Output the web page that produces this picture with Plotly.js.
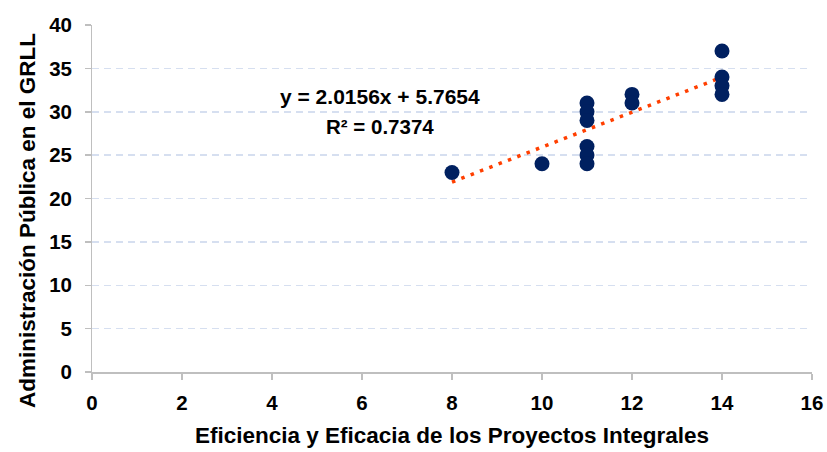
<!DOCTYPE html>
<html><head><meta charset="utf-8">
<script src="https://cdn.plot.ly/plotly-3.0.1.min.js"></script>
<style>html,body{margin:0;padding:0;background:#fff}#chart{width:827px;height:452px}</style>
</head><body><div id="chart"></div>
<script>
const xValues = [8, 10, 11, 11, 11, 11, 11, 11, 12, 12, 14, 14, 14, 14];
const yValues = [23, 24, 31, 30, 29, 26, 25, 24, 32, 31, 37, 34, 33, 32];
const trendSlope = 2.0156;
const trendIntercept = 5.7654;
const trendR2 = 0.7374;
const xTicks = [0, 2, 4, 6, 8, 10, 12, 14, 16];
const yTicks = [0, 5, 10, 15, 20, 25, 30, 35, 40];

const xMin = Math.min(...xValues), xMax = Math.max(...xValues);
const trendX = [xMin, xMax];
const trendY = trendX.map(x => trendSlope * x + trendIntercept);

const FONT = 'Liberation Sans, Arial, sans-serif';
const W = 827, L = 40, R = 15, PW = W - L - R;
const px = p => (p - L) / PW;

const data = [
  {x: trendX, y: trendY, type: 'scatter', mode: 'lines', xaxis: 'x', yaxis: 'y',
   line: {color: '#FF3F00', width: 3.5, dash: '3.5px,6.5px'}, hoverinfo: 'skip'},
  {x: xValues, y: yValues, type: 'scatter', mode: 'markers', xaxis: 'x', yaxis: 'y2',
   marker: {color: '#002060', size: 15}}
];
const layout = {
  width: W, height: 452,
  margin: {l: L, r: R, t: 25, b: 80},
  paper_bgcolor: '#fff', plot_bgcolor: '#fff',
  showlegend: false,
  font: {family: FONT, color: '#000'},
  xaxis: {domain: [px(92), 1], range: [0, 16], tickvals: xTicks, ticktext: xTicks.map(v => '<b>' + v + '</b>'),
    showgrid: false, zeroline: false, showline: true, linecolor: '#BFBFBF', linewidth: 1.5,
    ticks: 'outside', ticklen: 6, tickcolor: '#BFBFBF', tickwidth: 1.5,
    tickfont: {family: FONT, size: 20.5, color: '#000'},
    ticklabelstandoff: 6,
    title: {text: '<b>Eficiencia y Eficacia de los Proyectos Integrales</b>',
      font: {family: FONT, size: 22.5, color: '#000'}, standoff: 14}},
  yaxis: {anchor: 'x', range: [0, 40], tickvals: yTicks, showticklabels: false,
    showgrid: true, gridcolor: '#D6DFF0', gridwidth: 1.5, griddash: '7px,5px',
    zeroline: false, showline: true, linecolor: '#BFBFBF', linewidth: 1.5,
    ticks: 'outside', ticklen: 6, tickcolor: '#BFBFBF', tickwidth: 1.5},
  yaxis2: {overlaying: 'y', matches: 'y', anchor: 'free', position: px(72), side: 'left',
    range: [0, 40], tickvals: yTicks, ticktext: yTicks.map(v => '<b>' + v + '</b>'),
    showgrid: false, zeroline: false, showline: false, ticks: '',
    tickfont: {family: FONT, size: 20.5, color: '#000'}},
  annotations: [
    {xref: 'paper', yref: 'paper', x: px(27), y: (372 - 221) / 347,
     text: '<b>Administración Pública en el GRLL</b>', textangle: -90,
     showarrow: false, font: {family: FONT, size: 22.5, color: '#000'}, xanchor: 'center', yanchor: 'middle'},
    {xref: 'paper', yref: 'paper', x: px(380), y: (372 - 97) / 347,
     text: '<b>y = ' + trendSlope.toFixed(4) + 'x + ' + trendIntercept.toFixed(4) + '</b>',
     showarrow: false, font: {family: FONT, size: 21, color: '#000'}, xanchor: 'center', yanchor: 'middle'},
    {xref: 'paper', yref: 'paper', x: px(380), y: (372 - 126) / 347,
     text: '<b>R² = ' + trendR2.toFixed(4) + '</b>',
     showarrow: false, font: {family: FONT, size: 20.5, color: '#000'}, xanchor: 'center', yanchor: 'middle'}
  ]
};
Plotly.newPlot('chart', data, layout, {displayModeBar: false, staticPlot: true});
</script></body></html>
